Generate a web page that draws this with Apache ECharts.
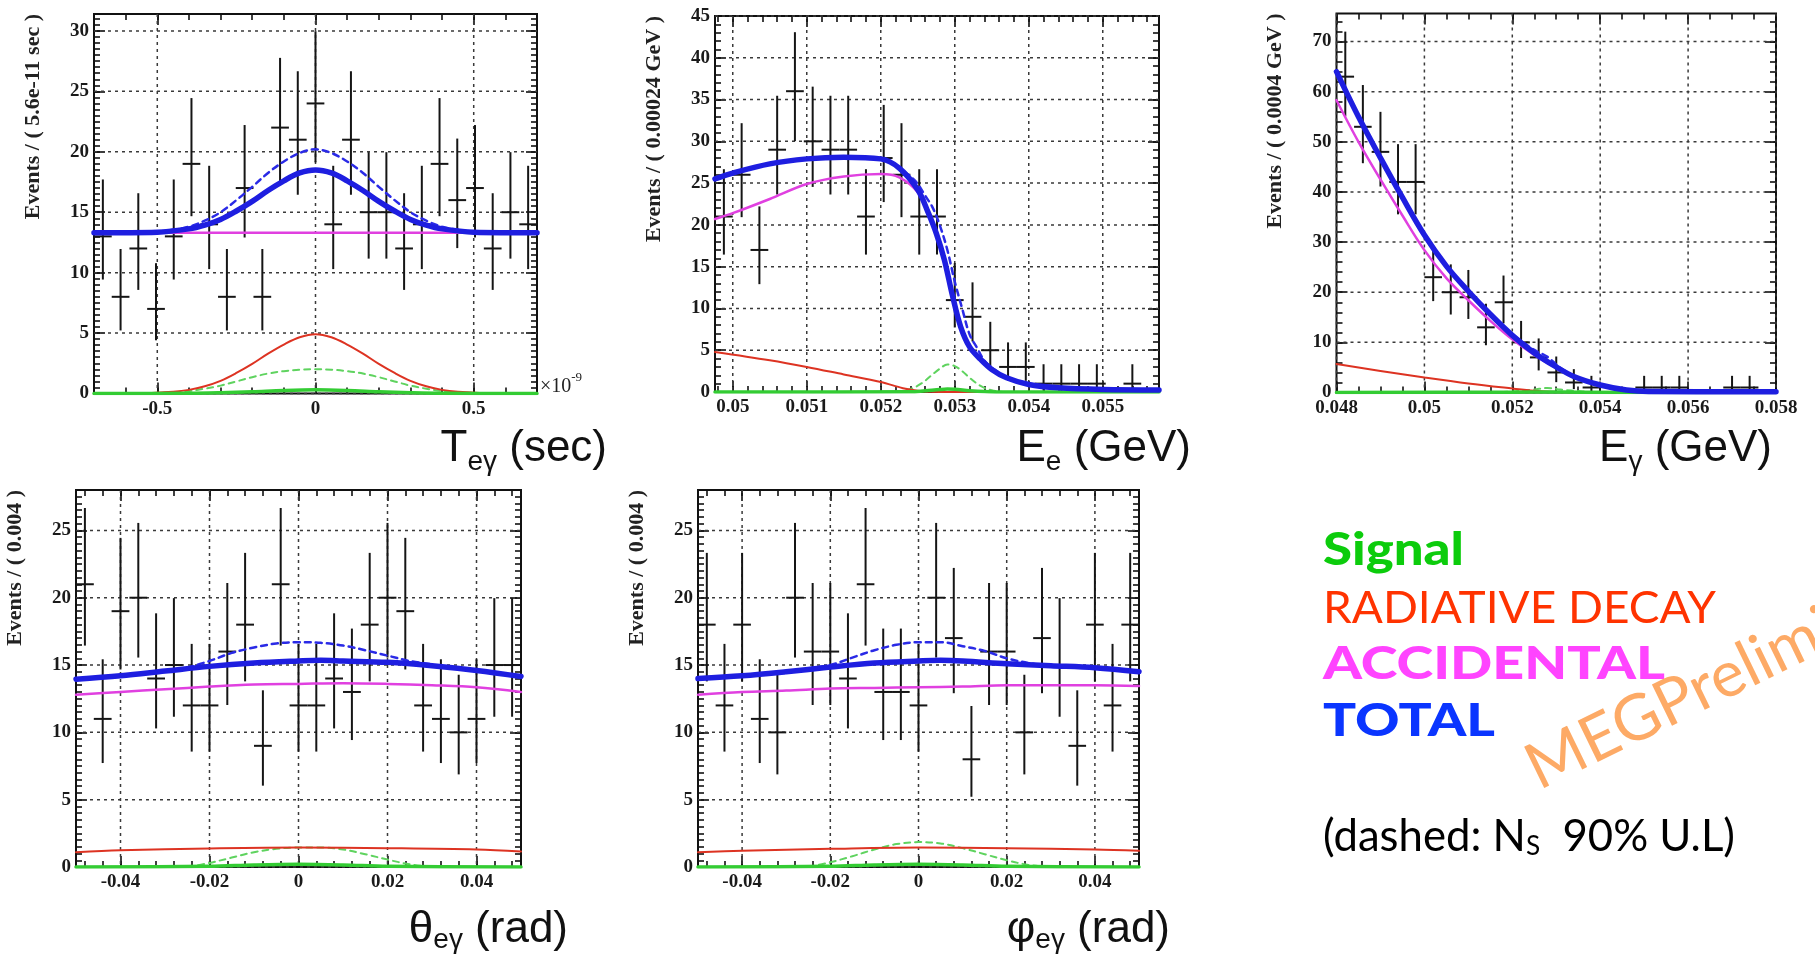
<!DOCTYPE html>
<html><head><meta charset="utf-8">
<script src="https://cdn.jsdelivr.net/npm/echarts@6/dist/echarts.min.js"></script>
<style>html,body{margin:0;padding:0;background:#fff;}#c{width:1815px;height:955px;}</style>
</head><body><div id="c"></div>
<script>
// ================= DATA =================
// binned event counts, 25 bins per panel
const P1_COUNTS = [13,8,12,7,13,19,14,8,17,8,22,21,24,14,21,15,15,12,14,19,16,17,12,15,14];
const P2_COUNTS = [21,26,17,29,36,30,29,29,21,28,26,21,21,11,9,5,3,3,1,1,1,1,0,1,0];
const P3_COUNTS = [63,53,48,42,42,23,20,19,13,18,10,7,4,2,1,0,0,1,1,1,0,0,1,1,0];
const P4_COUNTS = [21,11,19,20,14,15,12,12,16,18,9,21,12,12,14,13,18,20,19,12,11,10,11,15,15];
const P5_COUNTS = [18,12,18,11,10,20,16,16,14,21,13,13,12,20,17,8,16,16,10,17,15,9,18,12,18];

// binning (axis range start, bin width)
const P1_BIN = {min: -0.7, width: 0.056};
const P2_BIN = {min: 0.04976, width: 0.00024};
const P3_BIN = {min: 0.048, width: 0.0004};
const P4_BIN = {min: -0.05, width: 0.004};
const P5_BIN = {min: -0.05, width: 0.004};

// tick labels
const P1_XTICKS = [-0.5, 0, 0.5];
const P1_YTICKS = [0,5,10,15,20,25,30];
const P2_XTICKS = [0.05,0.051,0.052,0.053,0.054,0.055];
const P2_YTICKS = [0,5,10,15,20,25,30,35,40,45];
const P3_XTICKS = [0.048,0.05,0.052,0.054,0.056,0.058];
const P3_YTICKS = [0,10,20,30,40,50,60,70];
const P4_XTICKS = [-0.04,-0.02,0,0.02,0.04];
const P4_YTICKS = [0,5,10,15,20,25];
const P5_XTICKS = [-0.04,-0.02,0,0.02,0.04];
const P5_YTICKS = [0,5,10,15,20,25];

// fitted curves [x, y]
const P1_TOTAL = [[-0.7,13.3],[-0.5,13.35],[-0.4,13.62],[-0.35,13.93],[-0.3,14.4],[-0.25,15.1],[-0.2,15.9],[-0.15,16.8],[-0.1,17.6],[-0.05,18.25],[0,18.5],[0.05,18.25],[0.1,17.6],[0.15,16.8],[0.2,15.9],[0.25,15.1],[0.3,14.4],[0.35,13.93],[0.4,13.62],[0.5,13.35],[0.7,13.3]];
const P1_TOTAL_UL = [[-0.7,13.3],[-0.5,13.4],[-0.45,13.55],[-0.4,13.8],[-0.35,14.3],[-0.3,15.0],[-0.25,16.0],[-0.2,17.1],[-0.15,18.25],[-0.1,19.2],[-0.05,19.9],[0,20.2],[0.05,19.9],[0.1,19.2],[0.15,18.25],[0.2,17.1],[0.25,16.0],[0.3,15.0],[0.35,14.3],[0.4,13.8],[0.45,13.55],[0.5,13.4],[0.7,13.3]];
const P1_ACC = [[-0.7,13.3],[0.7,13.3]];
const P1_RAD = [[-0.7,0],[-0.55,0.02],[-0.45,0.15],[-0.4,0.3],[-0.35,0.6],[-0.3,1.05],[-0.25,1.7],[-0.2,2.45],[-0.15,3.3],[-0.1,4.05],[-0.05,4.65],[0,4.9],[0.05,4.65],[0.1,4.05],[0.15,3.3],[0.2,2.45],[0.25,1.7],[0.3,1.05],[0.35,0.6],[0.4,0.3],[0.45,0.15],[0.55,0.02],[0.7,0]];
const P1_SIG = [[-0.7,0],[-0.4,0.02],[-0.3,0.07],[-0.2,0.15],[-0.1,0.25],[0,0.3],[0.1,0.25],[0.2,0.15],[0.3,0.07],[0.4,0.02],[0.7,0]];
const P1_SIG_UL = [[-0.55,0],[-0.45,0.1],[-0.4,0.2],[-0.35,0.4],[-0.3,0.65],[-0.25,1.0],[-0.2,1.35],[-0.15,1.65],[-0.1,1.85],[-0.05,1.97],[0,2.0],[0.05,1.97],[0.1,1.85],[0.15,1.65],[0.2,1.35],[0.25,1.0],[0.3,0.65],[0.35,0.4],[0.4,0.2],[0.45,0.1],[0.55,0]];

const P2_TOTAL = [[0.04976,25.5],[0.05,26.2],[0.0505,27.3],[0.051,27.9],[0.0515,28.1],[0.052,27.9],[0.05225,26.8],[0.0525,24.2],[0.05264,21.5],[0.05275,19.0],[0.05286,15.8],[0.05297,11.5],[0.05308,7.8],[0.0532,5.4],[0.05335,3.9],[0.0535,2.7],[0.0537,1.7],[0.054,0.9],[0.0544,0.5],[0.055,0.3],[0.05576,0.25]];
const P2_TOTAL_UL = [[0.0522,27.2],[0.0524,25.8],[0.0525,24.9],[0.0526,23.5],[0.0527,22.1],[0.0528,19.9],[0.0529,17.0],[0.053,13.2],[0.0531,10.0],[0.0532,6.9],[0.0533,5.3],[0.0534,3.75],[0.0535,2.9],[0.0537,1.7]];
const P2_ACC = [[0.04976,20.7],[0.05,21.4],[0.0505,23.1],[0.051,24.9],[0.0515,25.8],[0.052,26.1],[0.05225,25.7],[0.0525,23.9],[0.05264,21.3],[0.05275,18.8],[0.05286,15.6],[0.05297,11.3],[0.05308,7.5],[0.0532,5.3],[0.05335,3.8],[0.0535,2.6],[0.0537,1.6],[0.054,0.8],[0.0544,0.4],[0.055,0.25],[0.05576,0.2]];
const P2_RAD = [[0.04976,4.8],[0.0505,3.8],[0.051,3.0],[0.0515,2.1],[0.052,1.2],[0.0523,0.45],[0.0525,0.15],[0.0527,0.02],[0.0529,0],[0.05576,0]];
const P2_SIG = [[0.04976,0],[0.0524,0.02],[0.0526,0.15],[0.0528,0.3],[0.0529,0.35],[0.053,0.32],[0.0532,0.16],[0.0534,0.05],[0.0536,0],[0.05576,0]];
const P2_SIG_UL = [[0.0522,0],[0.0524,0.35],[0.0525,0.75],[0.0526,1.35],[0.0527,2.1],[0.0528,2.8],[0.0529,3.3],[0.053,3.1],[0.0531,2.5],[0.0532,1.7],[0.0533,1.0],[0.0534,0.5],[0.0535,0.2],[0.0536,0.05],[0.0537,0]];

const P3_TOTAL = [[0.048,64],[0.0485,55],[0.049,46.8],[0.0495,38.9],[0.05,31.4],[0.0505,25.2],[0.051,20.2],[0.0515,15.6],[0.052,11.4],[0.0525,7.9],[0.053,5.1],[0.0534,3.2],[0.054,1.5],[0.0546,0.5],[0.0551,0.2],[0.058,0.15]];
const P3_TOTAL_UL = [[0.0515,15.6],[0.052,11.6],[0.0525,8.5],[0.0528,7.1],[0.0531,4.9],[0.0536,2.5],[0.054,1.5]];
const P3_ACC = [[0.048,58.3],[0.0485,50.0],[0.049,42.5],[0.0495,35.3],[0.05,28.4],[0.0505,22.8],[0.051,18.4],[0.0515,14.3],[0.052,10.6],[0.0525,7.5],[0.053,4.9],[0.0534,3.1],[0.054,1.45],[0.0546,0.45],[0.0551,0.18],[0.058,0.12]];
const P3_RAD = [[0.048,5.7],[0.049,4.3],[0.05,3.0],[0.051,1.8],[0.052,0.8],[0.0525,0.35],[0.053,0.08],[0.0535,0],[0.058,0]];
const P3_SIG = [[0.048,0],[0.052,0.05],[0.0528,0.1],[0.0535,0.05],[0.058,0]];
const P3_SIG_UL = [[0.0515,0],[0.052,0.2],[0.0525,0.6],[0.0528,0.9],[0.0531,0.6],[0.0536,0.2],[0.054,0]];

const P4_TOTAL = [[-0.05,13.95],[-0.04,14.2],[-0.03,14.55],[-0.02,14.9],[-0.01,15.15],[0,15.3],[0.005,15.35],[0.01,15.3],[0.02,15.2],[0.03,14.95],[0.04,14.6],[0.05,14.15]];
const P4_TOTAL_UL = [[-0.025,14.8],[-0.02,15.3],[-0.015,15.9],[-0.01,16.3],[-0.005,16.6],[0,16.7],[0.005,16.65],[0.01,16.45],[0.015,16.1],[0.02,15.7],[0.025,15.3],[0.03,15.05]];
const P4_ACC = [[-0.05,12.8],[-0.04,13.0],[-0.03,13.2],[-0.02,13.4],[-0.01,13.55],[0,13.6],[0.01,13.65],[0.02,13.6],[0.03,13.5],[0.04,13.35],[0.05,13.0]];
const P4_RAD = [[-0.05,1.1],[-0.04,1.25],[-0.02,1.38],[0,1.45],[0.02,1.4],[0.04,1.3],[0.05,1.15]];
const P4_SIG = [[-0.05,0],[-0.02,0.05],[-0.01,0.15],[0,0.2],[0.01,0.15],[0.02,0.05],[0.05,0]];
const P4_SIG_UL = [[-0.025,0],[-0.02,0.3],[-0.015,0.7],[-0.01,1.1],[-0.005,1.35],[0,1.45],[0.005,1.45],[0.01,1.3],[0.015,0.95],[0.02,0.55],[0.025,0.2],[0.03,0]];

const P5_TOTAL = [[-0.05,14.0],[-0.04,14.2],[-0.03,14.5],[-0.02,14.85],[-0.01,15.15],[0,15.3],[0.005,15.35],[0.01,15.3],[0.02,15.1],[0.03,14.95],[0.04,14.8],[0.05,14.5]];
const P5_TOTAL_UL = [[-0.025,14.75],[-0.02,15.0],[-0.015,15.55],[-0.01,16.1],[-0.005,16.5],[0,16.7],[0.005,16.7],[0.01,16.4],[0.015,16.05],[0.02,15.5],[0.025,15.15],[0.03,14.95]];
const P5_ACC = [[-0.05,12.8],[-0.04,13.0],[-0.03,13.1],[-0.02,13.25],[-0.01,13.3],[0,13.35],[0.01,13.4],[0.02,13.5],[0.03,13.5],[0.04,13.5],[0.05,13.45]];
const P5_RAD = [[-0.05,1.1],[-0.04,1.2],[-0.02,1.35],[0,1.45],[0.02,1.4],[0.04,1.3],[0.05,1.2]];
const P5_SIG = [[-0.05,0],[-0.02,0.05],[-0.01,0.15],[0,0.2],[0.01,0.15],[0.02,0.05],[0.05,0]];
const P5_SIG_UL = [[-0.025,0],[-0.02,0.35],[-0.015,0.8],[-0.01,1.3],[-0.005,1.7],[0,1.85],[0.005,1.75],[0.01,1.4],[0.015,0.95],[0.02,0.5],[0.025,0.15],[0.03,0]];

// texts
const Y_TITLES = ['Events / ( 5.6e-11 sec )','Events / ( 0.00024 GeV )','Events / ( 0.0004 GeV )','Events / ( 0.004 )','Events / ( 0.004 )'];
const X_TITLES = [[['T',0],['e\u03b3',1],[' (sec)',0]], [['E',0],['e',1],[' (GeV)',0]], [['E',0],['\u03b3',1],[' (GeV)',0]], [['\u03b8',0],['e\u03b3',1],[' (rad)',0]], [['\u03c6',0],['e\u03b3',1],[' (rad)',0]]];
const LEGEND = [
  {pieces:[['Signal',0]], color:'#0ccc0c', weight:'900'},
  {pieces:[['RADIATIVE DECAY',0]], color:'#ff3300', weight:'normal'},
  {pieces:[['ACCIDENTAL',0]], color:'#ff44ff', weight:'900'},
  {pieces:[['TOTAL',0]], color:'#0a35ff', weight:'900'},
  {pieces:[['(dashed: N',0],['S',1],['  90% U.L)',0]], color:'#000', weight:'normal'}
];
const WATERMARK = 'MEGPreliminary';

// ================= LAYOUT / STYLE =================
const PANELS = [
  {left:94, top:14, width:443, height:379.5, xmin:-0.7, xmax:0.7, ymax:31.4, xminor:0.1, yminor:0.5,
   counts:P1_COUNTS, bin:P1_BIN, xt:P1_XTICKS, yt:P1_YTICKS, c:[P1_TOTAL,P1_TOTAL_UL,P1_ACC,P1_RAD,P1_SIG,P1_SIG_UL], title:{right:607, base:461, sub:9}},
  {left:715, top:16, width:444, height:376, xmin:0.04976, xmax:0.05576, ymax:45, xminor:0.0002, yminor:1,
   counts:P2_COUNTS, bin:P2_BIN, xt:P2_XTICKS, yt:P2_YTICKS, c:[P2_TOTAL,P2_TOTAL_UL,P2_ACC,P2_RAD,P2_SIG,P2_SIG_UL], title:{right:1191, base:461, sub:9}},
  {left:1336.5, top:13.5, width:439.5, height:379, xmin:0.048, xmax:0.058, ymax:75.6, xminor:0.0005, yminor:2,
   counts:P3_COUNTS, bin:P3_BIN, xt:P3_XTICKS, yt:P3_YTICKS, c:[P3_TOTAL,P3_TOTAL_UL,P3_ACC,P3_RAD,P3_SIG,P3_SIG_UL], title:{right:1772, base:461, sub:9}},
  {left:76, top:490, width:445, height:377, xmin:-0.05, xmax:0.05, ymax:28, xminor:0.004, yminor:0.5,
   counts:P4_COUNTS, bin:P4_BIN, xt:P4_XTICKS, yt:P4_YTICKS, c:[P4_TOTAL,P4_TOTAL_UL,P4_ACC,P4_RAD,P4_SIG,P4_SIG_UL], title:{right:568, base:942, sub:6}},
  {left:698, top:490, width:441, height:377, xmin:-0.05, xmax:0.05, ymax:28, xminor:0.004, yminor:0.5,
   counts:P5_COUNTS, bin:P5_BIN, xt:P5_XTICKS, yt:P5_YTICKS, c:[P5_TOTAL,P5_TOTAL_UL,P5_ACC,P5_RAD,P5_SIG,P5_SIG_UL], title:{right:1170, base:942, sub:6}}
];
const SERIF = "'Liberation Serif','Times New Roman',serif";
const SANS = "'Liberation Sans',Arial,sans-serif";
const LEGFONT = "Lato,'Open Sans',sans-serif";

function steps(min, max, step) {
  const out = [];
  const k0 = Math.ceil(min / step - 1e-6), k1 = Math.floor(max / step + 1e-6);
  for (let k = k0; k <= k1; k++) out.push(+(k * step).toFixed(10));
  return out;
}
const mctx = document.createElement('canvas').getContext('2d');
function measure(text, font) {
  mctx.font = font; mctx.textBaseline = 'middle';
  return mctx.measureText(text);
}
function baseOff(font) { return measure('H', font).actualBoundingBoxDescent; }

const grids = [], xAxes = [], yAxes = [], series = [], graphics = [];
const tickStyle = {color: '#111', width: 1.6};
const labelStyle = {color:'#1a1a1a', fontFamily:SERIF, fontWeight:'bold', fontSize:19, formatter: v => String(+(+v).toFixed(6))};
function axX(gi, p, pos, vals, len, labels) {
  return {type:'value', gridIndex:gi, min:p.xmin, max:p.xmax, position:pos,
    axisLine:{show:false, onZero:false}, splitLine:{show:false}, minorTick:{show:false},
    axisTick:{show:true, inside:true, length:len, customValues:vals, lineStyle:tickStyle},
    axisLabel: labels ? Object.assign({show:true, customValues:labels, margin:6}, labelStyle) : {show:false}};
}
function axY(gi, p, pos, vals, len, labels) {
  return {type:'value', gridIndex:gi, min:0, max:p.ymax, position:pos,
    axisLine:{show:false, onZero:false}, splitLine:{show:false}, minorTick:{show:false},
    axisTick:{show:true, inside:true, length:len, customValues:vals, lineStyle:tickStyle},
    axisLabel: labels ? Object.assign({show:true, customValues:labels, margin:5}, labelStyle) : {show:false}};
}

PANELS.forEach((p, gi) => {
  grids.push({left:p.left, top:p.top, width:p.width, height:p.height, show:true, borderColor:'#111', borderWidth:2, backgroundColor:'transparent', containLabel:false, outerBoundsMode:'none'});
  const xmin = steps(p.xmin, p.xmax, p.xminor), ymin = steps(0, p.ymax, p.yminor);
  xAxes.push(axX(gi, p, 'bottom', p.xt, 11, p.xt), axX(gi, p, 'bottom', xmin, 6), axX(gi, p, 'top', p.xt, 11), axX(gi, p, 'top', xmin, 6));
  yAxes.push(axY(gi, p, 'left', p.yt, 11, p.yt), axY(gi, p, 'left', ymin, 6), axY(gi, p, 'right', p.yt, 11), axY(gi, p, 'right', ymin, 6));
  const ax = {xAxisIndex: gi * 4, yAxisIndex: gi * 4};

  // dotted grid lines at tick labels
  const gdata = p.xt.map(v => [v, 0, 0]).concat(p.yt.map(v => [p.xmin, v, 1]));
  series.push(Object.assign({type:'custom', data:gdata, z:1, silent:true, encode:{x:0, y:1},
    renderItem(params, api) {
      const cs = params.coordSys, st = {stroke:'#3a3a3a', lineWidth:1.5, lineDash:[3,4]};
      if (api.value(2) === 0) {
        const px = api.coord([api.value(0), 0])[0];
        return {type:'line', shape:{x1:px, y1:cs.y, x2:px, y2:cs.y + cs.height}, style:st};
      }
      const py = api.coord([p.xmin, api.value(1)])[1];
      return {type:'line', shape:{x1:cs.x, y1:py, x2:cs.x + cs.width, y2:py}, style:st};
    }}, ax));

  // data points with Poisson error bars
  const edata = [];
  p.counts.forEach((n, k) => {
    if (n <= 0) return;
    const x = p.bin.min + p.bin.width * (k + 0.5);
    edata.push([x, n, n - Math.sqrt(n - 0.25), n + 1 + Math.sqrt(n + 0.75), p.bin.width / 2]);
  });
  series.push(Object.assign({type:'custom', data:edata, z:3, silent:true, encode:{x:0, y:1},
    renderItem(params, api) {
      const x = api.value(0), n = api.value(1), lo = api.value(2), hi = api.value(3), hw = api.value(4);
      const c = api.coord([x, n]), l = api.coord([x - hw, n]), r = api.coord([x + hw, n]);
      const t = api.coord([x, hi]), b = api.coord([x, lo]);
      return {type:'group', children:[
        {type:'line', shape:{x1:l[0], y1:c[1], x2:r[0], y2:c[1]}, style:{stroke:'#151515', lineWidth:2}},
        {type:'line', shape:{x1:c[0], y1:t[1], x2:c[0], y2:b[1]}, style:{stroke:'#151515', lineWidth:2}}]};
    }}, ax));

  const [tot, totUL, acc, rad, sig, sigUL] = p.c;
  const line = (data, color, width, dash, z) => Object.assign({type:'line', data, showSymbol:false, symbol:'none',
    smooth:0.35, silent:true, clip:true, z, lineStyle:{color, width, type:dash || 'solid', cap:'round', join:'round'}}, ax);
  series.push(line(sigUL, '#5fd35f', 2, [6,5], 4));
  series.push(line(rad, '#dd3322', 2, null, 4));
  series.push(line(acc, '#e040e0', 2.5, null, 5));
  series.push(line(sig, '#33cc33', 3.5, null, 5));
  series.push(line(totUL, '#2a2ae6', 2.5, [6,5], 6));
  series.push(line(tot, '#1e1ee0', 5.5, null, 7));

  // y-axis title (rotated, ends at frame top)
  graphics.push({type:'text', x:p.left - 61, y:p.top, rotation:Math.PI / 2, silent:true,
    style:{text:Y_TITLES[gi], font:"bold 22px " + SERIF, fill:'#222', align:'right', verticalAlign:'middle'}});

  // x-axis big title with subscript
  const mainF = '44px ' + SANS, subF = '28px ' + SANS;
  const parts = X_TITLES[gi];
  let tw = 0; parts.forEach(([t, s]) => { tw += measure(t, s ? subF : mainF).width; });
  let cx = p.title.right - tw;
  parts.forEach(([t, s]) => {
    const f = s ? subF : mainF;
    const yb = p.title.base + (s ? p.title.sub : 0);
    graphics.push({type:'text', x:cx, y:yb - baseOff(f), silent:true, style:{text:t, font:f, fill:'#111', align:'left', verticalAlign:'middle'}});
    cx += measure(t, f).width;
  });
});

// x10^-9 exponent on first panel
(function () {
  const p = PANELS[0];
  const f1 = '20px ' + SERIF, f2 = '13px ' + SERIF;
  const w = measure('\u00d710', f1).width;
  graphics.push({type:'text', x:p.left + p.width + 3, y:p.top + p.height - 7, silent:true, style:{text:'\u00d710', font:f1, fill:'#222', align:'left', verticalAlign:'middle'}});
  graphics.push({type:'text', x:p.left + p.width + 3 + w, y:p.top + p.height - 16, silent:true, style:{text:'-9', font:f2, fill:'#222', align:'left', verticalAlign:'middle'}});
})();

// legend block
const LEG_X = 1323, LEG_BASE = [565, 623, 679, 736, 851], LEG_W = [141, 393, 342, 172, 412];
LEGEND.forEach((item, i) => {
  const fMain = item.weight + ' 45px ' + LEGFONT, fSub = item.weight + ' 27px ' + LEGFONT;
  let w = 0; item.pieces.forEach(([t, s]) => { w += measure(t, s ? fSub : fMain).width; });
  const sx = LEG_W[i] / w;
  const children = []; let cx = 0;
  item.pieces.forEach(([t, s]) => {
    const f = s ? fSub : fMain;
    children.push({type:'text', x:cx, y:(s ? 4 : 0) - baseOff(f), silent:true, style:{text:t, font:f, fill:item.color, align:'left', verticalAlign:'middle'}});
    cx += measure(t, f).width;
  });
  graphics.push({type:'group', x:LEG_X, y:LEG_BASE[i], scaleX:sx, scaleY:1, silent:true, children});
});
// watermark
graphics.push({type:'text', x:1530, y:772, rotation:26 * Math.PI / 180, silent:true,
  style:{text:WATERMARK, font:'64px ' + LEGFONT, fill:'#fdaa66', align:'left', verticalAlign:'middle'}});

const chart = echarts.init(document.getElementById('c'), null, {renderer:'canvas'});
chart.setOption({animation:false, backgroundColor:'#fff', grid:grids, xAxis:xAxes, yAxis:yAxes, series, graphic:graphics});
</script></body></html>
